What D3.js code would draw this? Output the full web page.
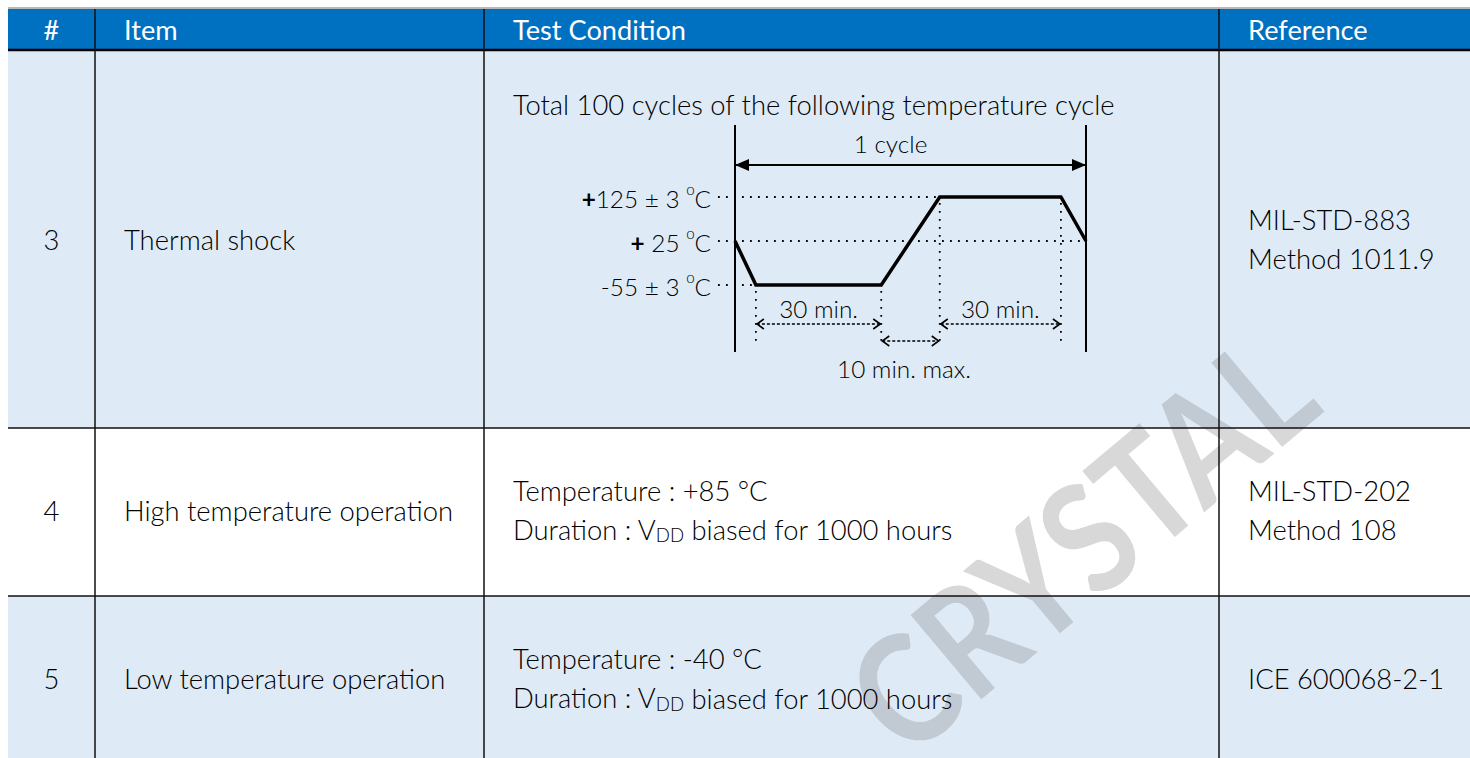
<!DOCTYPE html>
<html>
<head>
<meta charset="utf-8">
<script src="https://cdn.jsdelivr.net/npm/d3@7"></script>
<style>
  body { margin: 0; background: #fff; }
  svg { display: block; font-family: Lato, "Open Sans", sans-serif; }
</style>
</head>
<body>
<div id="chart"></div>
<script>
// table content
var headers = ["#", "Item", "Test Condition", "Reference"];
var rowIds = ["3", "4", "5"];
var items = ["Thermal shock", "High temperature operation", "Low temperature operation"];
var conditionTemps = ["", "+85 °C", "-40 °C"];
var conditionHours = ["", "1000", "1000"];
var references = [["MIL-STD-883", "Method 1011.9"], ["MIL-STD-202", "Method 108"], ["ICE 600068-2-1"]];
var cycleCount = 100;

// temperature cycle (schematic) : levels in °C, times in minutes
var tempLevels = [125, 25, -55];
var tempLabels = [["+", "125 ± 3 "], ["+", " 25 "], ["", "-55 ± 3 "]];
var cycleTime = [0, 5, 35, 49, 78, 84];
var cycleTemp = [25, -55, -55, 125, 125, 25];
var guideEnd = [49, 84, 5];
var spans = [
  {from: 5, to: 35, label: "30 min."},
  {from: 49, to: 78, label: "30 min."},
  {from: 35, to: 49, label: "10 min. max."}
];

// layout
var W = 1470, H = 758;
var colX = [8, 95, 484, 1219, 1470];
var rowY = [51, 428, 596, 765];
var headTop = 9, headBot = 50;
var blue = "#0070c0", light = "#deeaf6";

var svg = d3.select("#chart").append("svg")
  .attr("width", W).attr("height", H);

// pick font sizes so a known string gets the width seen in the picture
function fitSize(str, weight, target) {
  var t = svg.append("text").attr("font-size", 100).attr("font-weight", weight).text(str);
  var w = t.node().getComputedTextLength();
  t.remove();
  return 100 * target / w;
}
var fsBody = fitSize("Total 100 cycles of the following temperature cycle", 300, 602);
var fsHead = fitSize("Test Condition", 400, 173);
var fsDiag = fitSize("10 min. max.", 300, 134);

// header
svg.append("rect").attr("x", colX[0]).attr("y", headTop)
  .attr("width", W - colX[0]).attr("height", headBot - headTop).attr("fill", blue);
svg.append("line").attr("x1", colX[0]).attr("x2", W).attr("y1", 8).attr("y2", 8)
  .attr("stroke", "#a0a0a0").attr("stroke-width", 1.5);

headers.forEach(function(h, i) {
  svg.append("text")
    .attr("x", i == 0 ? (colX[0] + colX[1]) / 2 : colX[i] + 29)
    .attr("y", (headTop + headBot) / 2)
    .attr("text-anchor", i == 0 ? "middle" : "start")
    .attr("dominant-baseline", "central")
    .attr("fill", "#fff").attr("font-size", fsHead)
    .text(h);
});

// row backgrounds
rowIds.forEach(function(r, i) {
  svg.append("rect").attr("x", colX[0]).attr("y", rowY[i])
    .attr("width", W - colX[0]).attr("height", rowY[i + 1] - rowY[i])
    .attr("fill", i % 2 == 0 ? light : "#fff");
});

// watermark
svg.append("text")
  .attr("transform", "translate(1326,410) rotate(-40) scale(0.86,1)")
  .attr("text-anchor", "end")
  .attr("font-size", 152).attr("font-weight", 700)
  .attr("fill", "#7f7f7f").attr("fill-opacity", 0.3)
  .text("CRYSTAL");

// grid lines
svg.append("line").attr("x1", colX[0]).attr("x2", W).attr("y1", headBot).attr("y2", headBot)
  .attr("stroke", "#000").attr("stroke-width", 2.5);
[rowY[1], rowY[2]].forEach(function(y) {
  svg.append("line").attr("x1", colX[0]).attr("x2", W).attr("y1", y).attr("y2", y)
    .attr("stroke", "#111").attr("stroke-width", 1.5);
});
colX.slice(1, 4).forEach(function(x) {
  svg.append("line").attr("x1", x).attr("x2", x).attr("y1", headTop).attr("y2", H)
    .attr("stroke", "#111").attr("stroke-width", 1.5);
});

// body text
function put(x, y, str, anchor) {
  return svg.append("text").attr("x", x).attr("y", y)
    .attr("text-anchor", anchor || "start")
    .attr("dominant-baseline", "central")
    .attr("fill", "#000").attr("font-size", fsBody).attr("font-weight", 300)
    .text(str);
}
rowIds.forEach(function(r, i) {
  var cy = (rowY[i] + rowY[i + 1]) / 2 - 2;
  if (i == 0) cy = 239;
  put((colX[0] + colX[1]) / 2, cy, r, "middle");
  put(colX[1] + 29, cy, items[i]);
  var refs = references[i];
  refs.forEach(function(t, k) {
    put(colX[3] + 29, cy + (k - (refs.length - 1) / 2) * 39, t);
  });
  if (i > 0) {
    put(colX[2] + 29, cy - 20, "Temperature : " + conditionTemps[i]);
    var d = put(colX[2] + 29, cy + 19, "Duration : V");
    d.append("tspan").attr("font-size", fsBody * 0.68).attr("dy", 6).text("DD");
    d.append("tspan").attr("dy", -6).text(" biased for " + conditionHours[i] + " hours");
  }
});

// thermal shock diagram
put(colX[2] + 29, 104, "Total " + cycleCount + " cycles of the following temperature cycle");

var xT = d3.scaleLinear().domain([0, 84]).range([735, 1086]);
var yT = d3.scalePoint().domain(tempLevels).range([197, 285]);
var g = svg.append("g");
var defs = svg.append("defs");
defs.append("marker").attr("id", "tri").attr("viewBox", "0 -6 14 12")
  .attr("refX", 14).attr("refY", 0).attr("markerWidth", 14).attr("markerHeight", 12)
  .attr("markerUnits", "userSpaceOnUse").attr("orient", "auto-start-reverse")
  .append("path").attr("d", "M0,-6L14,0L0,6Z").attr("fill", "#000");
defs.append("marker").attr("id", "chev").attr("viewBox", "-1 -6 9 12")
  .attr("refX", 7).attr("refY", 0).attr("markerWidth", 9).attr("markerHeight", 12)
  .attr("markerUnits", "userSpaceOnUse").attr("orient", "auto-start-reverse")
  .append("path").attr("d", "M0,-5L7,0L0,5").attr("fill", "none")
  .attr("stroke", "#000").attr("stroke-width", 1.6);

// cycle borders
[0, 84].forEach(function(t) {
  g.append("line").attr("x1", xT(t)).attr("x2", xT(t)).attr("y1", 125).attr("y2", 352)
    .attr("stroke", "#000").attr("stroke-width", 2);
});

function diagText(x, y, anchor) {
  return g.append("text").attr("x", x).attr("y", y)
    .attr("text-anchor", anchor).attr("dominant-baseline", "central")
    .attr("font-size", fsDiag).attr("font-weight", 300).attr("fill", "#000");
}

// level labels + dotted guides
var dots = "1.8,6.2";
tempLevels.forEach(function(v, i) {
  var t = diagText(711, yT(v) + 1, "end");
  t.append("tspan").attr("font-weight", 700).text(tempLabels[i][0]);
  t.append("tspan").text(tempLabels[i][1]);
  t.append("tspan").attr("font-size", fsDiag * 0.62).attr("dy", -9).text("o");
  t.append("tspan").attr("dy", 9).text("C");
  g.append("line").attr("x1", 718).attr("x2", xT(guideEnd[i]))
    .attr("y1", yT(v)).attr("y2", yT(v))
    .attr("stroke", "#000").attr("stroke-width", 1.8).attr("stroke-dasharray", dots);
});

// dotted verticals at plateau corners
cycleTime.slice(1, 5).forEach(function(t, i) {
  var v = cycleTemp[i + 1];
  g.append("line").attr("x1", xT(t)).attr("x2", xT(t))
    .attr("y1", yT(v) + 6).attr("y2", 346)
    .attr("stroke", "#000").attr("stroke-width", 1.8).attr("stroke-dasharray", dots);
});

// waveform
var line = d3.line().x(function(d) { return xT(d.t); }).y(function(d) { return yT(d.v); });
g.append("path")
  .datum(cycleTime.map(function(t, i) { return {t: t, v: cycleTemp[i]}; }))
  .attr("d", line).attr("fill", "none").attr("stroke", "#000")
  .attr("stroke-width", 3.5).attr("stroke-linejoin", "miter");

// 1 cycle arrow
g.append("line").attr("x1", xT(0)).attr("x2", xT(84)).attr("y1", 165).attr("y2", 165)
  .attr("stroke", "#000").attr("stroke-width", 2)
  .attr("marker-start", "url(#tri)").attr("marker-end", "url(#tri)");
diagText((xT(0) + xT(84)) / 2 - 20, 143, "middle").text("1  cycle");

// duration spans
spans.forEach(function(s, i) {
  var y = i < 2 ? 324 : 341;
  g.append("line").attr("x1", xT(s.from) + 1).attr("x2", xT(s.to) - 1).attr("y1", y).attr("y2", y)
    .attr("stroke", "#000").attr("stroke-width", 1.6).attr("stroke-dasharray", "3,2")
    .attr("marker-start", "url(#chev)").attr("marker-end", "url(#chev)");
  diagText(i < 2 ? (xT(s.from) + xT(s.to)) / 2 : 904, i < 2 ? 308 : 368, "middle").text(s.label);
});
</script>
</body>
</html>
